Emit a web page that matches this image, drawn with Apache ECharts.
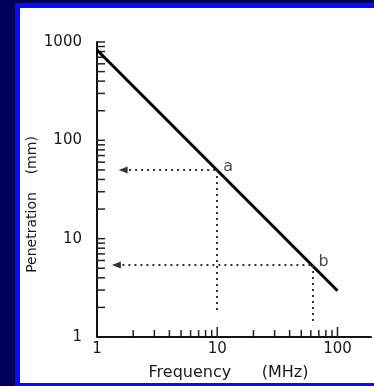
<!DOCTYPE html>
<html><head><meta charset="utf-8">
<script src="https://cdn.jsdelivr.net/npm/echarts@6/dist/echarts.min.js"></script>
<style>html,body{margin:0;padding:0;background:#000058;}#c{width:374px;height:386px;}</style>
</head><body><div id="c"></div>
<script>
// Data
const lineFreq = [1, 100];          // MHz
const linePen = [830, 2.95];        // mm
const pointNames = ['a', 'b'];
const pointFreq = [10, 62];
const pointPen = [50, 5.4];
const arrowFreq = [1.65, 1.45];     // where the dotted guides end on the left
const dropPen = [1.74, 1.32];       // where the vertical dotted guides stop
const xMinorTicks = [2,3,4,5,6,7,8,9,20,30,40,50,60,70,80,90];
const xMajorTicks = [10, 100];
const yMinorTicks = [2,3,4,5,6,7,8,9,20,30,40,50,60,70,80,90,200,300,400,500,600,700,800,900];
const yMajorTicks = [10, 100, 1000];
const xTickLabels = ['1', '10', '100'];
const yTickLabels = ['1', '10', '100', '1000'];

const font = 'DejaVu Sans';
const ink = '#1a1a1a';
const isPow10 = v => Math.abs(Math.log10(v) - Math.round(Math.log10(v))) < 1e-6;

const tickData = [];
xMinorTicks.forEach(v => tickData.push([v, 0, 7]));
xMajorTicks.forEach(v => tickData.push([v, 0, 10]));
yMinorTicks.forEach(v => tickData.push([v, 1, 8]));
yMajorTicks.forEach(v => tickData.push([v, 1, 8]));

const guideStyle = {color: '#333', width: 2, type: [2, 4]};
const markData = [];
pointFreq.forEach((f, i) => {
  markData.push([{coord: [arrowFreq[i], pointPen[i]], symbol: 'triangle', symbolSize: [7, 9]},
                 {coord: [f, pointPen[i]], symbol: 'none'}]);
  markData.push([{coord: [f, pointPen[i]], symbol: 'none'},
                 {coord: [f, dropPen[i]], symbol: 'none'}]);
});

const chart = echarts.init(document.getElementById('c'));
chart.setOption({
  backgroundColor: '#000058',
  animation: false,
  graphic: [
    {type: 'rect', shape: {x: 15, y: 3, width: 359, height: 383}, style: {fill: '#0a0aff'}, z: -10},
    {type: 'rect', shape: {x: 20, y: 8, width: 354, height: 375}, style: {fill: '#ffffff'}, z: -9}
  ],
  grid: {left: 97, right: 0, top: 42, bottom: 44},
  xAxis: {
    type: 'log', logBase: 10, min: 1, max: 190,
    name: 'Frequency      (MHz)', nameLocation: 'middle', nameGap: 28, nameMoveOverlap: false,
    nameTextStyle: {fontFamily: font, fontSize: 16, color: ink, padding: [0, 11, 0, 0]},
    axisLine: {lineStyle: {color: '#111', width: 2}},
    axisTick: {show: false}, splitLine: {show: false},
    axisLabel: {fontFamily: font, fontSize: 15, color: ink, margin: 5,
      formatter: v => isPow10(v) && xTickLabels.includes(String(Math.round(v))) ? String(Math.round(v)) : ''}
  },
  yAxis: {
    type: 'log', logBase: 10, min: 1, max: 1000,
    name: 'Penetration    (mm)', nameLocation: 'middle', nameGap: 58, nameMoveOverlap: false,
    nameTextStyle: {fontFamily: font, fontSize: 14, color: ink, padding: [0, 30, 0, 0]},
    axisLine: {lineStyle: {color: '#111', width: 2}},
    axisTick: {show: false}, splitLine: {show: false},
    axisLabel: {fontFamily: font, fontSize: 15, color: ink, margin: 15,
      formatter: v => isPow10(v) && yTickLabels.includes(String(Math.round(v))) ? String(Math.round(v)) : ''}
  },
  series: [
    {
      type: 'custom', coordinateSystem: 'cartesian2d', clip: false, silent: true,
      data: tickData,
      renderItem: (params, api) => {
        const v = api.value(0), kind = api.value(1), len = api.value(2);
        let p, q;
        if (kind === 0) { p = api.coord([v, 1]); q = [p[0], p[1] - len]; }
        else { p = api.coord([1, v]); q = [p[0] + len, p[1]]; }
        return {type: 'line', shape: {x1: p[0], y1: p[1], x2: q[0], y2: q[1]},
                style: {stroke: '#222', lineWidth: 1.5}};
      }
    },
    {
      type: 'line', symbol: 'none', silent: true,
      data: lineFreq.map((f, i) => [f, linePen[i]]),
      lineStyle: {color: '#000', width: 3},
      markLine: {silent: true, symbol: 'none', label: {show: false},
        lineStyle: guideStyle, emphasis: {disabled: true}, data: markData},
      z: 3
    },
    {
      type: 'scatter', symbolSize: 0, silent: true,
      data: pointFreq.map((f, i) => ({value: [f, pointPen[i]], name: pointNames[i]})),
      label: {show: true, position: 'right', distance: 6, offset: [0, -3],
        formatter: p => p.name, fontFamily: font, fontSize: 16, color: ink}
    }
  ]
});
</script></body></html>
